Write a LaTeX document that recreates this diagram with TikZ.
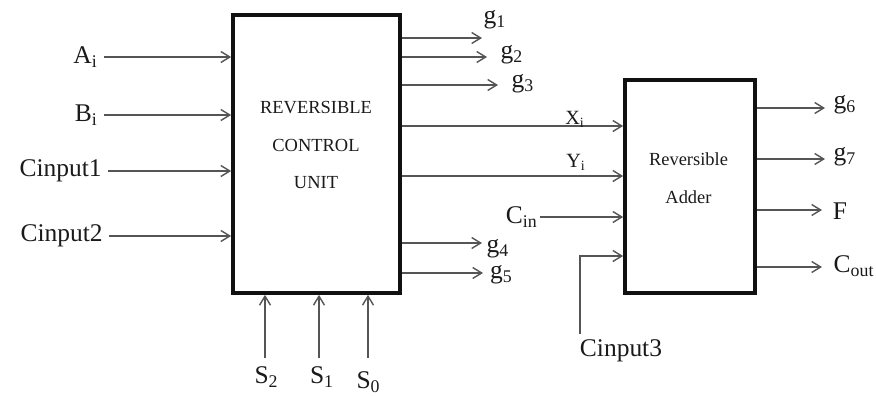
\documentclass[tikz,border=0pt]{standalone}
\usepackage{fontspec}
\setmainfont{Liberation Serif}
\usepackage{xcolor}
\usepackage{tikz}
\usetikzlibrary{arrows.meta}
\definecolor{RCWire}{HTML}{555555}
\definecolor{RCFrame}{HTML}{111111}
\definecolor{RCText}{HTML}{1A1A1A}

\begin{document}
\begin{tikzpicture}[x=1cm,y=1cm,
  sig/.style={RCWire,line width=0.8pt,-{Straight Barb[length=0.18cm,width=0.22cm]}},
  block/.style={draw=RCFrame,line width=2.1pt,inner sep=0pt},
  blocklbl/.style={RCText,align=center,font=\fontsize{10.5}{21.5}\selectfont},
  pinlbl/.style={RCText,font=\fontsize{14.5}{16}\selectfont,inner xsep=0.12cm,inner ysep=0.04cm},
  buslbl/.style={RCText,font=\fontsize{11.5}{13}\selectfont,inner sep=0.02cm}]
\path[use as bounding box] (0,0) rectangle (17.52,7.90);
% blocks
\node[block,minimum width=3.34cm,minimum height=5.56cm] (rcu) at (6.33,4.82) {};
\node[blocklbl] (rcutxt) at (6.32,5.00) {REVERSIBLE\\CONTROL\\UNIT};
\node[block,minimum width=2.60cm,minimum height=4.26cm] (adder) at (13.80,4.17) {};
\node[blocklbl] (addtxt) at (13.77,4.33) {Reversible\\Adder};
% inputs of the control unit
\node[pinlbl,anchor=east] (ai) at (2.08,6.76) {A\textsubscript{i}};
\node[pinlbl,anchor=east] (bi) at (2.08,5.60) {B\textsubscript{i}};
\node[pinlbl,anchor=east] (cin1) at (2.16,4.48) {Cinput1};
\node[pinlbl,anchor=east] (cin2) at (2.18,3.18) {Cinput2};
\draw[sig] (ai) -- (ai -| rcu.west);
\draw[sig] (bi) -- (bi -| rcu.west);
\draw[sig] (cin1) -- (cin1 -| rcu.west);
\draw[sig] (cin2) -- (cin2 -| rcu.west);
% select lines
\coordinate (s2tail) at (5.30,0.74);
\coordinate (s1tail) at (6.38,0.74);
\coordinate (s0tail) at (7.36,0.74);
\draw[sig] (s2tail) -- (s2tail |- rcu.south);
\draw[sig] (s1tail) -- (s1tail |- rcu.south);
\draw[sig] (s0tail) -- (s0tail |- rcu.south);
\node[pinlbl] (s2) at (5.33,0.36) {S\textsubscript{2}};
\node[pinlbl] (s1) at (6.44,0.36) {S\textsubscript{1}};
\node[pinlbl] (s0) at (7.37,0.26) {S\textsubscript{0}};
% garbage outputs of the control unit
\coordinate (g1tip) at (9.64,7.14);
\coordinate (g2tip) at (9.74,6.76);
\coordinate (g3tip) at (9.96,6.20);
\coordinate (g4tip) at (9.64,3.04);
\coordinate (g5tip) at (9.66,2.44);
\draw[sig] (g1tip -| rcu.east) -- (g1tip);
\draw[sig] (g2tip -| rcu.east) -- (g2tip);
\draw[sig] (g3tip -| rcu.east) -- (g3tip);
\draw[sig] (g4tip -| rcu.east) -- (g4tip);
\draw[sig] (g5tip -| rcu.east) -- (g5tip);
\node[pinlbl] (g1) at (9.90,7.51) {g\textsubscript{1}};
\node[pinlbl] (g2) at (10.24,6.81) {g\textsubscript{2}};
\node[pinlbl] (g3) at (10.46,6.22) {g\textsubscript{3}};
\node[pinlbl] (g4) at (9.96,2.92) {g\textsubscript{4}};
\node[pinlbl] (g5) at (10.03,2.40) {g\textsubscript{5}};
% control unit to adder
\draw[sig] ([yshift=0.56cm]rcu.east) -- ([yshift=0.56cm]rcu.east -| adder.west);
\draw[sig] ([yshift=-0.44cm]rcu.east) -- ([yshift=-0.44cm]rcu.east -| adder.west);
\node[buslbl] (xi) at (11.50,5.52) {X\textsubscript{i}};
\node[buslbl] (yi) at (11.52,4.66) {Y\textsubscript{i}};
% adder carry inputs
\node[pinlbl,anchor=east,inner xsep=0.04cm] (cin) at (10.80,3.56) {C\textsubscript{in}};
\draw[sig] (cin) -- (cin -| adder.west);
\node[pinlbl] (cin3) at (12.42,0.88) {Cinput3};
\coordinate (c3bend) at (11.60,2.78);
\draw[sig] ([yshift=0.08cm]c3bend |- cin3.north) -- (c3bend) -- (c3bend -| adder.west);
% adder outputs
\coordinate (g6tip) at (16.50,5.74);
\coordinate (g7tip) at (16.50,4.72);
\coordinate (ftip) at (16.44,3.70);
\coordinate (couttip) at (16.44,2.56);
\draw[sig] (g6tip -| adder.east) -- (g6tip);
\draw[sig] (g7tip -| adder.east) -- (g7tip);
\draw[sig] (ftip -| adder.east) -- (ftip);
\draw[sig] (couttip -| adder.east) -- (couttip);
\node[pinlbl] (g6) at (16.90,5.80) {g\textsubscript{6}};
\node[pinlbl] (g7) at (16.90,4.76) {g\textsubscript{7}};
\node[pinlbl] (fout) at (16.80,3.68) {F};
\node[pinlbl] (cout) at (17.08,2.58) {C\textsubscript{out}};
\end{tikzpicture}
\end{document}
